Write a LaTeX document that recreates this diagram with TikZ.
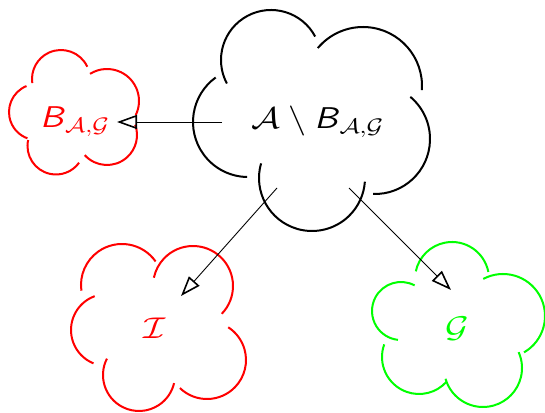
\RequirePackage{fix-cm}
\documentclass[tikz,border=0pt]{standalone}
\usepackage{amsmath,amssymb}
\usepackage{xcolor}
\usepackage{tikz}
\usetikzlibrary{arrows.meta}

\begin{document}
\begin{tikzpicture}[
  x=0.5pt, y=0.5pt,
  font=\fontsize{15}{18}\selectfont,
  puff/.style={line width=1pt},
  arr/.style={-{Triangle[open, length=10pt, width=7pt, line width=0.8pt]},
              line width=0.45pt},
  lab/.style={anchor=base, inner sep=0pt, xscale=1.2}
]
\useasboundingbox (0,0) rectangle (545,412);

% main cloud
\foreach \cx/\cy/\r/\a/\b in {271/352/50/28/208, 363/326/59/-4/140,
    375/273/55/-92/50, 312/234/53/164/356, 248/290/55/126/269}
  \draw[puff] (\cx,\cy) ++(\a:\r) arc[start angle=\a, end angle=\b, radius=\r];
% B cloud
\foreach \cx/\cy/\r/\a/\b in {61/333/29/25/188, 107/311/32/-26/122,
    107/277/30/-138/20, 56/266/28.5/168/324, 37/300/28/112/250}
  \draw[puff, red] (\cx,\cy) ++(\a:\r) arc[start angle=\a, end angle=\b, radius=\r];
% I cloud
\foreach \cx/\cy/\r/\a/\b in {122/127/41/35/188, 193/126/40/-44/168,
    207/52/39/-134/57, 139/37/36/153/347, 107/82/36/110/248}
  \draw[puff, red] (\cx,\cy) ++(\a:\r) arc[start angle=\a, end angle=\b, radius=\r];
% G cloud
\foreach \cx/\cy/\r/\a/\b in {452/133/37/11/168, 503/96/42/-60/118,
    483/44/39/-164/24, 419/55/37/160/318, 401/101/29/62/264}
  \draw[puff, green] (\cx,\cy) ++(\a:\r) arc[start angle=\a, end angle=\b, radius=\r];

\node[lab] (rest) at (318,283)
  {$\mathcal{A}\setminus\textsf{\textit{B}}_{\mathcal{A},\mathcal{G}}$};
\node[lab, red] (bag) at (75,284) {$\textsf{\textit{B}}_{\mathcal{A},\mathcal{G}}$};
\node[lab, red] (inf) at (155,74) {$\mathcal{I}$};
\node[lab, green] (gen) at (457,75) {$\mathcal{G}$};

\coordinate (restW) at (222,290);
\coordinate (restSW) at (277,224);
\coordinate (restSE) at (349,224);
\coordinate (bagE) at (117,290);
\coordinate (infNE) at (181,116);
\coordinate (genNW) at (451,122);

\draw[arr] (restW) -- (bagE);
\draw[arr] (restSW) -- (infNE);
\draw[arr] (restSE) -- (genNW);
\end{tikzpicture}
\end{document}
